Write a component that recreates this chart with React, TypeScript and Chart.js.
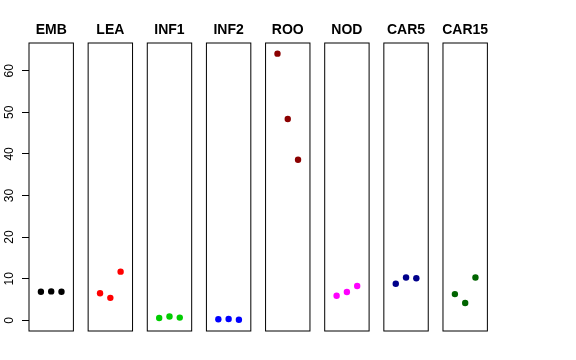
import React, { useEffect, useRef } from "react";
import { Chart, registerables } from "chart.js";

Chart.register(...registerables);

const categories = ["EMB", "LEA", "INF1", "INF2", "ROO", "NOD", "CAR5", "CAR15"];
const replicates = [1, 2, 3];
const emb = [6.85, 6.95, 6.85];
const lea = [6.5, 5.4, 11.7];
const inf1 = [0.55, 0.9, 0.65];
const inf2 = [0.24, 0.3, 0.15];
const roo = [64.1, 48.4, 38.6];
const nod = [5.9, 6.8, 8.25];
const car5 = [8.8, 10.3, 10.1];
const car15 = [6.3, 4.15, 10.3];
const seriesValues = [emb, lea, inf1, inf2, roo, nod, car5, car15];
const colors = ["#000000", "#FF0000", "#00CD00", "#0000FF", "#8B0000", "#FF00FF", "#00008B", "#006400"];
const yTicks = [0, 10, 20, 30, 40, 50, 60];

const Y_MIN = -2.57;
const Y_MAX = 66.66;
const X_MIN = -0.16;
const X_MAX = 4.16;

const W = 576;
const H = 360;
const PANEL_LEFT0 = 29;
const PANEL_STEP = 59.14;
const PANEL_W = 44.4;
const PANEL_TOP = 43;
const PANEL_BOTTOM = 331;
const AXIS_W = 29;

const panelDecor = {
  id: "panelDecor",
  afterDraw(chart: any, _args: any, opts: any) {
    const { ctx, chartArea } = chart;
    const { left, top, right, bottom } = chartArea;
    ctx.save();
    ctx.strokeStyle = "#000";
    ctx.lineWidth = 1;
    ctx.strokeRect(left, top, right - left, bottom - top);
    ctx.fillStyle = "#000";
    ctx.font = 'bold 14px "Liberation Sans", Arial, sans-serif';
    ctx.textAlign = "center";
    ctx.textBaseline = "alphabetic";
    ctx.fillText(opts.title, (left + right) / 2, 34);
    if (opts.yLabels) {
      const ys = chart.scales.y;
      ctx.font = '12px "Liberation Sans", Arial, sans-serif';
      ys.ticks.forEach((t: any) => {
        const py = ys.getPixelForValue(t.value);
        ctx.save();
        ctx.translate(13.3, py);
        ctx.rotate(-Math.PI / 2);
        ctx.textAlign = "center";
        ctx.textBaseline = "alphabetic";
        ctx.fillText(String(t.value), 0, 0);
        ctx.restore();
      });
    }
    ctx.restore();
  },
};

function Panel({ index }: { index: number }) {
  const ref = useRef<HTMLCanvasElement | null>(null);
  const boxLeft = PANEL_LEFT0 + PANEL_STEP * index;
  const boxRight = boxLeft + PANEL_W;
  const first = index === 0;
  const canvasLeft = first ? 0 : Math.floor(boxLeft) - 12;
  const canvasRight = Math.ceil(boxRight) + 12;
  const cw = canvasRight - canvasLeft;

  useEffect(() => {
    if (!ref.current) return;
    const yScale: any = first
      ? {
          type: "linear",
          min: Y_MIN,
          max: Y_MAX,
          display: true,
          position: "left",
          afterBuildTicks: (s: any) => {
            s.ticks = yTicks.map((v) => ({ value: v }));
          },
          afterFit: (s: any) => {
            s.width = AXIS_W;
          },
          ticks: { display: false },
          grid: { drawOnChartArea: false, drawTicks: true, tickLength: 7, color: "#000", lineWidth: 1 },
          border: { display: false },
        }
      : { type: "linear", min: Y_MIN, max: Y_MAX, display: false };
    const chart = new Chart(ref.current, {
      type: "scatter",
      data: {
        datasets: [
          {
            data: replicates.map((r, j) => ({ x: r, y: seriesValues[index][j] })),
            backgroundColor: colors[index],
            borderColor: colors[index],
            borderWidth: 0,
            pointRadius: 3.2,
          },
        ],
      },
      options: {
        animation: false,
        responsive: false,
        devicePixelRatio: 1,
        events: [],
        layout: {
          padding: {
            left: first ? 0 : boxLeft - canvasLeft,
            right: canvasRight - boxRight,
            top: PANEL_TOP,
            bottom: H - PANEL_BOTTOM,
          },
        },
        plugins: {
          legend: { display: false },
          tooltip: { enabled: false },
          title: { display: false },
          panelDecor: { title: categories[index], yLabels: first },
        } as any,
        scales: {
          x: { type: "linear", min: X_MIN, max: X_MAX, display: false },
          y: yScale,
        },
      },
      plugins: [panelDecor],
    });
    return () => chart.destroy();
  }, [index]);

  return (
    <canvas
      ref={ref}
      width={cw}
      height={H}
      style={{ position: "absolute", left: canvasLeft, top: 0, width: cw, height: H, display: "block" }}
    />
  );
}

export default function App() {
  return (
    <div style={{ position: "absolute", left: 0, top: 0, width: W, height: H, background: "#fff", overflow: "hidden" }}>
      {categories.map((_, i) => (
        <Panel key={i} index={i} />
      ))}
    </div>
  );
}
